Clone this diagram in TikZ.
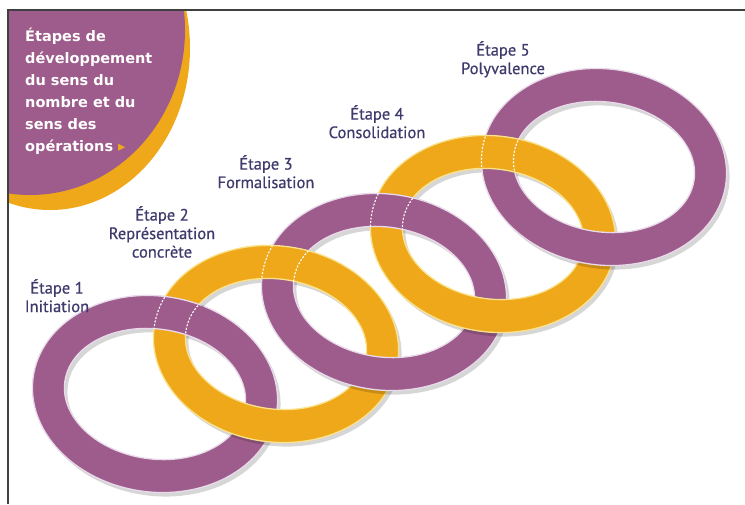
\documentclass[tikz,border=0pt]{standalone}
\usepackage{fontspec}
\setmainfont{PT Sans}
\newfontfamily\titlefont{DejaVu Sans}
\newfontfamily\labelfont[FakeBold=0.5]{PT Sans}
\usepackage{tikz}

\definecolor{ringpurple}{RGB}{157,92,139}
\definecolor{ringorange}{RGB}{239,168,26}
\definecolor{edgepurple}{RGB}{232,218,234}
\definecolor{edgeorange}{RGB}{250,226,140}
\definecolor{labelink}{RGB}{62,58,108}

\tikzset{
  purplering/.style={fill=ringpurple, draw=edgepurple, line width=1.3pt, even odd rule},
  orangering/.style={fill=ringorange, draw=edgeorange, line width=1.3pt, even odd rule},
  ringshadow/.style={fill=black, fill opacity=.16, even odd rule},
  stitch/.style={draw=white, line width=1.1pt, dash pattern=on 2pt off 1.6pt},
  steplabel/.style={anchor=north, align=center, inner sep=0pt, text=labelink,
    font=\labelfont\fontsize{16.5}{18.5}\selectfont},
}
\newcommand{\ringshape}{(0,0) ellipse [x radius=123, y radius=98] (0,0) ellipse [x radius=91, y radius=65]}

\begin{document}
\begin{tikzpicture}[x=1pt,y=-1pt]
\useasboundingbox (0,0) rectangle (745,504);

\begin{scope}
  \clip (8,10) rectangle (745,504);
  \fill[ringorange] (50,48) ellipse [x radius=140, y radius=162];
  \fill[ringpurple] (30,30) ellipse [x radius=155, y radius=165];
\end{scope}
\draw[line width=2pt, black!75] (8,504) -- (8,10) -- (745,10);

\path (25,28) node[anchor=north west, inner sep=0pt, align=left, text=white,
    font=\titlefont\bfseries\fontsize{14.5}{22}\selectfont] (title)
  {Étapes de\\développement\\du sens du\\nombre et du\\sens des\\opérations {\color{ringorange}▸}};

\foreach \cx/\cy/\kind in {155/394/purplering, 276/344/orangering, 384/292/purplering,
    493/234/orangering, 604/167/purplering}
{
  \fill[ringshadow, shift={(\cx+3,\cy+4)}, rotate=-8] \ringshape;
  \path[\kind, shift={(\cx,\cy)}, rotate=-8] \ringshape;
}

\foreach \ax/\ay/\akind/\bx/\by in {155/394/purplering/276/344, 276/344/orangering/384/292,
    384/292/purplering/493/234, 493/234/orangering/604/167}
{
  \begin{scope}
    \clip ({(\ax+\bx-107)/2},{(\ay+\by-80)/2}) circle [radius=46];
    \path[\akind, shift={(\ax,\ay)}, rotate=-8] \ringshape;
    \begin{scope}[even odd rule, shift={(\ax,\ay)}, rotate=-8]
      \clip \ringshape;
      \draw[stitch, rotate=8, shift={(-\ax,-\ay)}, shift={(\bx,\by)}, rotate=-8] \ringshape;
    \end{scope}
  \end{scope}
}

\path (57,279) node[steplabel] (step1) {Étape 1\\Initiation}
  (162,206) node[steplabel] (step2) {Étape 2\\Représentation\\concrète}
  (266,155) node[steplabel] (step3) {Étape 3\\Formalisation}
  (377,105) node[steplabel] (step4) {Étape 4\\Consolidation}
  (503,41) node[steplabel] (step5) {Étape 5\\Polyvalence};
\end{tikzpicture}
\end{document}
